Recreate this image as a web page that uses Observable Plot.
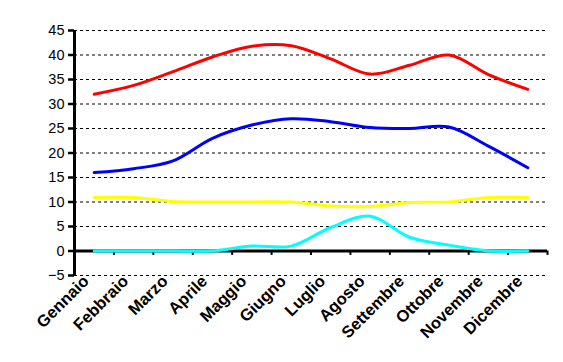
<!DOCTYPE html>
<html>
<head>
<meta charset="utf-8">
<script src="https://cdn.jsdelivr.net/npm/d3@7"></script>
<script src="https://cdn.jsdelivr.net/npm/@observablehq/plot@0.6"></script>
<style>
  html, body { margin: 0; padding: 0; background: #fff; }
  #chart svg { display: block; }
</style>
</head>
<body>
<div id="chart"></div>
<script>
const months = ["Gennaio","Febbraio","Marzo","Aprile","Maggio","Giugno","Luglio","Agosto","Settembre","Ottobre","Novembre","Dicembre"];
const serieRossa = [32, 33.8, 36.6, 39.6, 41.8, 41.9, 39.2, 36.1, 37.9, 40, 36, 33];
const serieBlu = [16, 16.8, 18.4, 23, 25.7, 27, 26.4, 25.2, 25, 25.3, 21.4, 17];
const serieGialla = [10.9, 10.9, 10.1, 10, 10, 10, 9.2, 9.1, 9.9, 10, 10.9, 10.9];
const serieAzzurra = [0, 0, 0, 0, 1, 1, 4.8, 7.1, 2.8, 1.2, 0, 0];
const yTicks = [-5, 0, 5, 10, 15, 20, 25, 30, 35, 40, 45];

const seriesList = [
  {values: serieRossa, color: "#ff0000"},
  {values: serieBlu, color: "#0000ff"},
  {values: serieGialla, color: "#ffff00"},
  {values: serieAzzurra, color: "#00ffff"}
];
const centers = months.map((m, i) => i + 0.5);
const boundaries = d3.range(1, months.length + 1);

const lineMarks = seriesList.map(s =>
  Plot.line(s.values.map((v, i) => ({x: i + 0.5, y: v})), {
    x: "x", y: "y", stroke: s.color, strokeWidth: 3, curve: "catmull-rom"
  })
);

const chart = Plot.plot({
  width: 563,
  height: 362,
  marginLeft: 74,
  marginRight: 16,
  marginTop: 30,
  marginBottom: 87,
  style: {fontFamily: "Arial, 'Liberation Sans', sans-serif", background: "#fff", color: "#000"},
  x: {type: "linear", domain: [0, months.length], axis: null},
  y: {domain: [-5, 45], axis: null},
  marks: [
    Plot.ruleY(yTicks, {stroke: "#000", strokeWidth: 1, strokeDasharray: "3,3"}),
    Plot.ruleY([0], {stroke: "#000", strokeWidth: 3}),
    Plot.ruleX(boundaries, {y1: 0, y2: -0.9, stroke: "#000", strokeWidth: 2}),
    ...lineMarks,
    Plot.ruleX([0], {y1: -5, y2: 45, stroke: "#000", strokeWidth: 3}),
    Plot.axisY(yTicks, {
      tickSize: 6, tickPadding: 4, strokeWidth: 2.5, fontSize: 14.5, label: null
    }),
    Plot.axisX(centers, {
      anchor: "bottom", tickSize: 0, tickPadding: 3, tickRotate: -45, dx: -8,
      tickFormat: d => months[Math.floor(d)], fontSize: 16.5, fontWeight: "bold", label: null
    })
  ]
});
document.getElementById("chart").appendChild(chart);
</script>
</body>
</html>
